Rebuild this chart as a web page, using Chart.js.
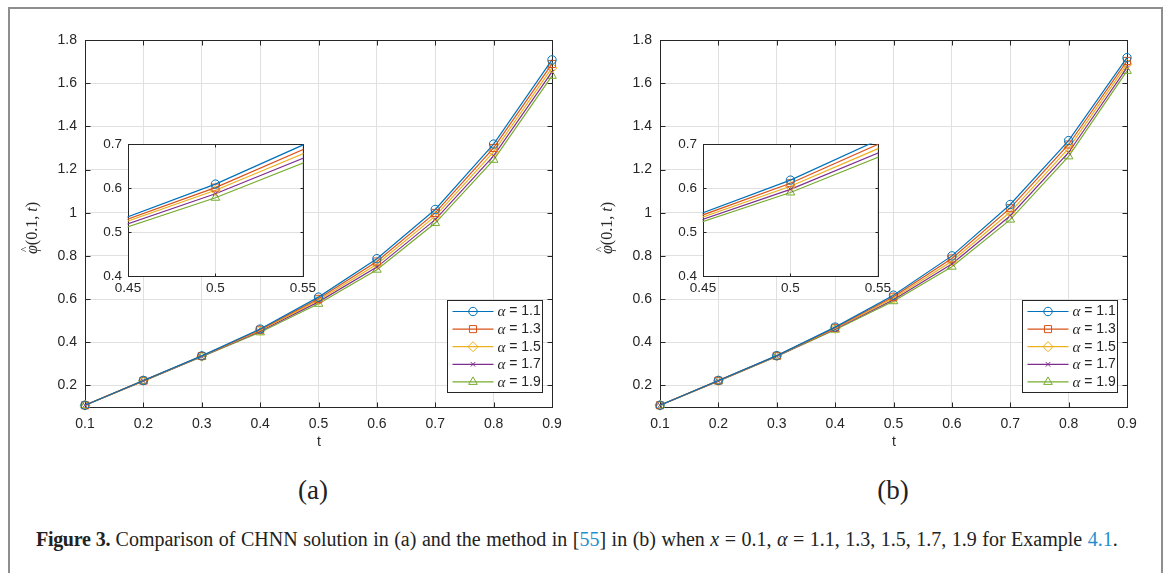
<!DOCTYPE html>
<html>
<head>
<meta charset="utf-8">
<script src="https://cdn.jsdelivr.net/npm/chart.js@4.4.1/dist/chart.umd.min.js"></script>
<style>
  body { margin: 0; background: #fff; width: 1171px; height: 573px; overflow: hidden; position: relative; }
  #frame { position: absolute; left: 8px; top: 7px; width: 1151px; height: 620px; border: 2px solid #8e8e8e; border-bottom: none; }
  canvas { position: absolute; }
  .xlab { position: absolute; font: 14px "Liberation Sans", Arial, sans-serif; color: #262626; transform: translate(-50%, -50%); }
  .ylab { position: absolute; font: 16px "Liberation Serif", "Times New Roman", serif; color: #262626; white-space: nowrap;
          transform: translate(-50%, -50%) rotate(-90deg); }
  .hat { position: relative; display: inline-block; }
  .hat .h { position: absolute; left: 2px; top: -5px; font-size: 11px; font-style: normal; }
  .sub { position: absolute; font: 27px "Liberation Serif", "Times New Roman", serif; color: #222; transform: translate(-50%, -50%); }
  #caption { position: absolute; left: 36px; top: 528px; font: 20px "Liberation Serif", "Times New Roman", serif; color: #222; white-space: nowrap; word-spacing: 0.5px; }
  #caption b { letter-spacing: -0.3px; }
  #caption .ref { color: #1f8fd0; }
</style>
</head>
<body>
<div id="frame"></div>

<canvas id="mainA" width="585" height="460" style="left:0px;top:0px"></canvas>
<canvas id="insetA" width="230" height="170" style="left:90px;top:130px"></canvas>
<canvas id="mainB" width="585" height="460" style="left:575px;top:0px"></canvas>
<canvas id="insetB" width="230" height="170" style="left:665px;top:130px"></canvas>

<div class="ylab" style="left:32px;top:228px"><span class="hat"><i>φ</i><span class="h">^</span></span>(0.1, <i>t</i>)</div>
<div class="ylab" style="left:607px;top:228px"><span class="hat"><i>φ</i><span class="h">^</span></span>(0.1, <i>t</i>)</div>
<div class="xlab" style="left:319px;top:441px">t</div>
<div class="xlab" style="left:894px;top:441px">t</div>
<div class="sub" style="left:313px;top:490px">(a)</div>
<div class="sub" style="left:893px;top:490px">(b)</div>

<div id="caption"><b>Figure 3.</b> Comparison of CHNN solution in (a) and the method in [<span class="ref">55</span>] in (b) when <i>x</i> = 0.1, <i>α</i> = 1.1, 1.3, 1.5, 1.7, 1.9 for Example <span class="ref">4.1</span>.</div>

<script>
// --- Data ---
const tValues = [0.1, 0.2, 0.3, 0.4, 0.5, 0.6, 0.7, 0.8, 0.9];
const alphaLabels = ['1.1', '1.3', '1.5', '1.7', '1.9'];

// (a) CHNN solution
const chnnAlpha11 = [0.108, 0.223, 0.337, 0.461, 0.609, 0.787, 1.015, 1.318, 1.708];
const chnnAlpha13 = [0.108, 0.222, 0.336, 0.458, 0.601, 0.774, 0.999, 1.300, 1.689];
const chnnAlpha15 = [0.108, 0.222, 0.335, 0.455, 0.595, 0.761, 0.984, 1.282, 1.671];
const chnnAlpha17 = [0.108, 0.221, 0.334, 0.451, 0.587, 0.748, 0.968, 1.263, 1.652];
const chnnAlpha19 = [0.108, 0.220, 0.333, 0.446, 0.578, 0.736, 0.952, 1.245, 1.634];

// (b) method in [55]
const refAlpha11 = [0.108, 0.223, 0.338, 0.470, 0.618, 0.800, 1.038, 1.334, 1.718];
const refAlpha13 = [0.108, 0.222, 0.337, 0.467, 0.611, 0.788, 1.021, 1.316, 1.703];
const refAlpha15 = [0.108, 0.222, 0.336, 0.464, 0.604, 0.775, 1.003, 1.298, 1.688];
const refAlpha17 = [0.108, 0.221, 0.335, 0.461, 0.597, 0.762, 0.986, 1.279, 1.672];
const refAlpha19 = [0.108, 0.220, 0.334, 0.458, 0.590, 0.750, 0.968, 1.261, 1.657];

const yTicksMain = [0.2, 0.4, 0.6, 0.8, 1.0, 1.2, 1.4, 1.6, 1.8];
const xTicksMain = [0.1, 0.2, 0.3, 0.4, 0.5, 0.6, 0.7, 0.8, 0.9];
const yTicksInset = [0.4, 0.5, 0.6, 0.7];
const xTicksInset = [0.45, 0.5, 0.55];

// --- Styles (MATLAB default line colors) ---
const colors = ['#0072BD', '#D95319', '#EDB120', '#7E2F8E', '#77AC30'];
const markers = ['circle', 'rect', 'rectRot', 'crossRot', 'triangle'];
const radii = [4.2, 5, 5, 3.2, 5];
const axisColor = '#262626';
const gridColor = '#e0e0e0';
const mainFont = { family: '"Liberation Sans", Arial, sans-serif', size: 14 };
const insetFont = { family: '"Liberation Sans", Arial, sans-serif', size: 13.5 };

const fmt = v => String(Number(v.toFixed(2)));

// box around the plot area with inward tick marks (MATLAB style)
const axesBox = {
  id: 'axesBox',
  beforeDatasetsDraw(chart, args, opts) {
    const { ctx, chartArea: a, scales: { x, y } } = chart;
    const len = opts.tickLength || 5;
    const L = Math.round(a.left) + 0.5, R = Math.round(a.right) + 0.5;
    const T = Math.round(a.top) + 0.5, B = Math.round(a.bottom) + 0.5;
    ctx.save();
    ctx.strokeStyle = axisColor;
    ctx.lineWidth = 1;
    ctx.beginPath();
    x.ticks.forEach(t => {
      const px = Math.round(x.getPixelForValue(t.value)) + 0.5;
      ctx.moveTo(px, B); ctx.lineTo(px, B - len);
      ctx.moveTo(px, T); ctx.lineTo(px, T + len);
    });
    y.ticks.forEach(t => {
      const py = Math.round(y.getPixelForValue(t.value)) + 0.5;
      ctx.moveTo(L, py); ctx.lineTo(L + len, py);
      ctx.moveTo(R, py); ctx.lineTo(R - len, py);
    });
    ctx.stroke();
    ctx.strokeRect(L, T, R - L, B - T);
    ctx.restore();
  }
};

// white background for the inset plot area
const whiteArea = {
  id: 'whiteArea',
  beforeDraw(chart) {
    const { ctx, chartArea: a } = chart;
    ctx.save();
    ctx.fillStyle = '#fff';
    ctx.fillRect(a.left, a.top, a.right - a.left, a.bottom - a.top);
    ctx.restore();
  }
};

function drawMarker(ctx, style, r, x, y) {
  if (Chart.helpers && Chart.helpers.drawPoint) {
    Chart.helpers.drawPoint(ctx, { pointStyle: style, radius: r, rotation: 0, borderWidth: 1 }, x, y);
  }
}

// MATLAB-like legend in the lower right corner
const boxLegend = {
  id: 'boxLegend',
  afterDraw(chart) {
    const { ctx, chartArea: a } = chart;
    const w = 95, h = 92;
    const bx = Math.round(a.right) - 10 - w + 0.5;
    const by = Math.round(a.bottom) - 15 - h + 0.5;
    ctx.save();
    ctx.fillStyle = '#fff';
    ctx.fillRect(bx, by, w, h);
    ctx.strokeStyle = axisColor;
    ctx.lineWidth = 1;
    ctx.strokeRect(bx, by, w, h);
    chart.data.datasets.forEach((ds, i) => {
      const cy = by + 11 + i * 17.6;
      ctx.strokeStyle = ds.borderColor;
      ctx.lineWidth = 1.2;
      ctx.beginPath();
      ctx.moveTo(bx + 5, cy); ctx.lineTo(bx + 46, cy);
      ctx.stroke();
      ctx.fillStyle = 'rgba(0,0,0,0)';
      ctx.lineWidth = 1;
      drawMarker(ctx, ds.pointStyle, ds.pointRadius, bx + 25.5, cy);
      ctx.fillStyle = axisColor;
      ctx.textBaseline = 'middle';
      ctx.font = 'italic 15px "Liberation Serif", serif';
      ctx.fillText('α', bx + 50, cy + 1);
      const aw = ctx.measureText('α').width;
      ctx.font = '14px "Liberation Sans", Arial, sans-serif';
      ctx.fillText(' = ' + alphaLabels[i], bx + 50 + aw, cy);
    });
    ctx.restore();
  }
};

function buildDatasets(series, clip) {
  return series.map((s, i) => ({
    label: 'α = ' + alphaLabels[i],
    data: tValues.map((t, j) => ({ x: t, y: s[j] })),
    borderColor: colors[i],
    borderWidth: 1.2,
    pointStyle: markers[i],
    pointRadius: radii[i],
    pointBorderWidth: 1,
    pointBorderColor: colors[i],
    pointBackgroundColor: 'rgba(0,0,0,0)',
    tension: 0,
    fill: false,
    clip: clip
  }));
}

function axisOptions(min, max, tickList, fitSize, isX, pad, font) {
  return {
    type: 'linear',
    min: min,
    max: max,
    afterBuildTicks: scale => { scale.ticks = tickList.map(v => ({ value: v })); },
    afterFit: scale => { if (isX) scale.height = fitSize; else scale.width = fitSize; },
    grid: { color: gridColor, drawTicks: false, lineWidth: 1 },
    border: { display: false },
    ticks: { color: axisColor, font: font, padding: pad, maxRotation: 0, autoSkip: false, callback: v => fmt(v) }
  };
}

function createMainChart(canvasId, series) {
  return new Chart(document.getElementById(canvasId), {
    type: 'line',
    data: { datasets: buildDatasets(series, false) },
    options: {
      responsive: false,
      animation: false,
      devicePixelRatio: 1,
      layout: { padding: { top: 40, right: 33, bottom: 0, left: 0 } },
      scales: {
        x: axisOptions(0.1, 0.9, xTicksMain, 53, true, 9, mainFont),
        y: axisOptions(0.1, 1.8, yTicksMain, 85, false, 8, mainFont)
      },
      plugins: { legend: { display: false }, tooltip: { enabled: false }, axesBox: { tickLength: 5 } }
    },
    plugins: [axesBox, boxLegend]
  });
}

function createInsetChart(canvasId, series) {
  return new Chart(document.getElementById(canvasId), {
    type: 'line',
    data: { datasets: buildDatasets(series, 0.5) },
    options: {
      responsive: false,
      animation: false,
      devicePixelRatio: 1,
      layout: { padding: { top: 11, right: 12, bottom: 0, left: 0 } },
      scales: {
        x: axisOptions(0.45, 0.55, xTicksInset, 24, true, 4, insetFont),
        y: axisOptions(0.4, 0.7, yTicksInset, 38, false, 6, insetFont)
      },
      plugins: { legend: { display: false }, tooltip: { enabled: false }, axesBox: { tickLength: 3 } }
    },
    plugins: [whiteArea, axesBox]
  });
}

createMainChart('mainA', [chnnAlpha11, chnnAlpha13, chnnAlpha15, chnnAlpha17, chnnAlpha19]);
createInsetChart('insetA', [chnnAlpha11, chnnAlpha13, chnnAlpha15, chnnAlpha17, chnnAlpha19]);
createMainChart('mainB', [refAlpha11, refAlpha13, refAlpha15, refAlpha17, refAlpha19]);
createInsetChart('insetB', [refAlpha11, refAlpha13, refAlpha15, refAlpha17, refAlpha19]);
</script>
</body>
</html>
